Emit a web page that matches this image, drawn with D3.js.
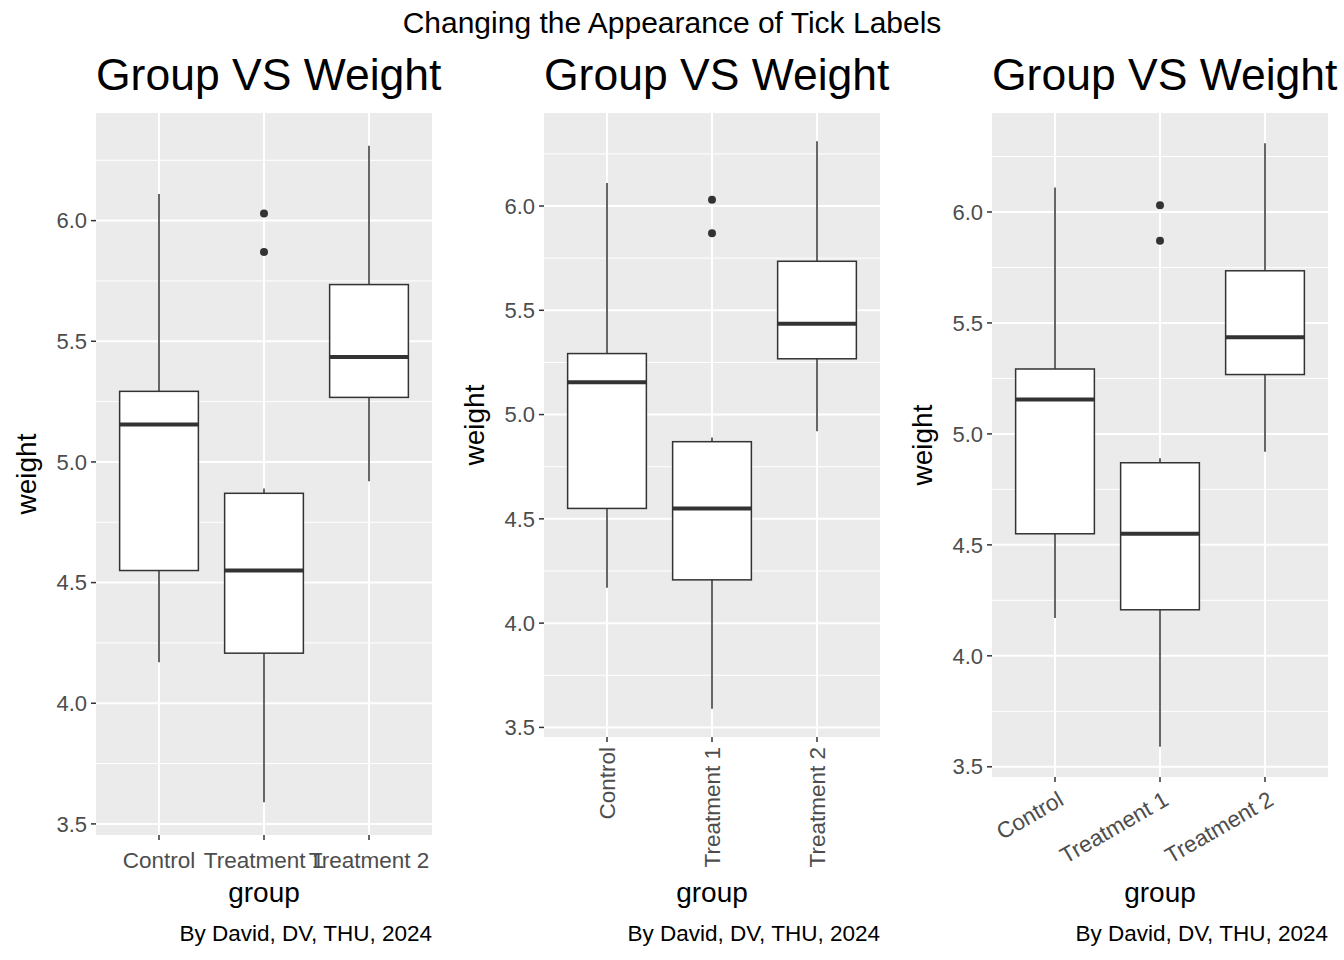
<!DOCTYPE html>
<html><head><meta charset="utf-8">
<script src="https://cdn.jsdelivr.net/npm/d3@7"></script>
<style>body{margin:0;background:#fff;font-family:"Liberation Sans",Arial,sans-serif}</style>
</head><body><svg id="chart" width="1344" height="960"></svg>
<script>
var groups = ["Control", "Treatment 1", "Treatment 2"];
var lowWhisker = [4.17, 3.59, 4.92];
var q1 = [4.55, 4.2075, 5.2675];
var median = [5.155, 4.55, 5.435];
var q3 = [5.2925, 4.87, 5.735];
var highWhisker = [6.11, 4.89, 6.31];
var outliers = [[], [5.87, 6.03], []];
var yTicks = [3.5, 4.0, 4.5, 5.0, 5.5, 6.0];
var yMinor = [3.75, 4.25, 4.75, 5.25, 5.75, 6.25];

var svg = d3.select("#chart");

svg.append("text").attr("x", 672).attr("y", 33).attr("text-anchor", "middle")
    .attr("font-size", 30).text("Changing the Appearance of Tick Labels");

// one panel per label style
var panels = [
    {left: 96, bottom: 835, mode: "flat"},
    {left: 544, bottom: 737, mode: "vertical"},
    {left: 992, bottom: 777, mode: "angled"}
];

panels.forEach(function (p) {
    var top = 113, right = p.left + 336;
    var g = svg.append("g");

    var x = d3.scaleLinear().domain([0.4, 3.6]).range([p.left, right]);
    var y = d3.scaleLinear().domain([3.454, 6.446]).range([p.bottom, top]);

    g.append("rect").attr("x", p.left).attr("y", top)
        .attr("width", right - p.left).attr("height", p.bottom - top).attr("fill", "#EBEBEB");

    yMinor.forEach(function (v) {
        g.append("line").attr("x1", p.left).attr("x2", right).attr("y1", y(v)).attr("y2", y(v))
            .attr("stroke", "#fff").attr("stroke-width", 1);
    });
    yTicks.forEach(function (v) {
        g.append("line").attr("x1", p.left).attr("x2", right).attr("y1", y(v)).attr("y2", y(v))
            .attr("stroke", "#fff").attr("stroke-width", 2);
    });
    groups.forEach(function (d, i) {
        g.append("line").attr("x1", x(i + 1)).attr("x2", x(i + 1)).attr("y1", top).attr("y2", p.bottom)
            .attr("stroke", "#fff").attr("stroke-width", 2);
    });

    var bw = 0.75 * (x(1) - x(0));
    groups.forEach(function (d, i) {
        var cx = x(i + 1);
        g.append("line").attr("x1", cx).attr("x2", cx).attr("y1", y(highWhisker[i])).attr("y2", y(q3[i]))
            .attr("stroke", "#333").attr("stroke-width", 1.5);
        g.append("line").attr("x1", cx).attr("x2", cx).attr("y1", y(q1[i])).attr("y2", y(lowWhisker[i]))
            .attr("stroke", "#333").attr("stroke-width", 1.5);
        g.append("rect").attr("x", cx - bw / 2).attr("y", y(q3[i])).attr("width", bw)
            .attr("height", y(q1[i]) - y(q3[i])).attr("fill", "#fff").attr("stroke", "#333").attr("stroke-width", 1.5);
        g.append("line").attr("x1", cx - bw / 2).attr("x2", cx + bw / 2).attr("y1", y(median[i])).attr("y2", y(median[i]))
            .attr("stroke", "#333").attr("stroke-width", 4);
        outliers[i].forEach(function (o) {
            g.append("circle").attr("cx", cx).attr("cy", y(o)).attr("r", 4).attr("fill", "#333");
        });
    });

    // y axis
    yTicks.forEach(function (v) {
        g.append("line").attr("x1", p.left - 5).attr("x2", p.left).attr("y1", y(v)).attr("y2", y(v))
            .attr("stroke", "#333").attr("stroke-width", 1.5);
        g.append("text").attr("x", p.left - 9).attr("y", y(v)).attr("dy", "0.35em")
            .attr("text-anchor", "end").attr("font-size", 22).attr("fill", "#4D4D4D").text(v.toFixed(1));
    });

    // x axis
    groups.forEach(function (d, i) {
        var cx = x(i + 1);
        g.append("line").attr("x1", cx).attr("x2", cx).attr("y1", p.bottom).attr("y2", p.bottom + 5)
            .attr("stroke", "#333").attr("stroke-width", 1.5);
        var t = g.append("text").attr("font-size", 22.5).attr("fill", "#4D4D4D").text(d);
        if (p.mode == "flat") {
            t.attr("x", cx).attr("y", p.bottom + 33).attr("text-anchor", "middle");
        } else if (p.mode == "vertical") {
            t.attr("text-anchor", "end").attr("dy", "0.35em")
                .attr("transform", "translate(" + cx + "," + (p.bottom + 10) + ") rotate(-90)");
        } else {
            t.attr("text-anchor", "end")
                .attr("transform", "translate(" + (cx + 10) + "," + (p.bottom + 27) + ") rotate(-30)");
        }
    });

    var mid = (p.left + right) / 2;
    svg.append("text").attr("x", mid).attr("y", 902).attr("text-anchor", "middle")
        .attr("font-size", 28).text("group");
    svg.append("text").attr("text-anchor", "middle").attr("font-size", 28)
        .attr("transform", "translate(" + (p.left - 60) + "," + ((top + p.bottom) / 2) + ") rotate(-90)")
        .text("weight");
    svg.append("text").attr("x", p.left).attr("y", 90).attr("font-size", 44.5).text("Group VS Weight");
    svg.append("text").attr("x", right).attr("y", 941).attr("text-anchor", "end")
        .attr("font-size", 22.5).text("By David, DV, THU, 2024");
});
</script></body></html>
